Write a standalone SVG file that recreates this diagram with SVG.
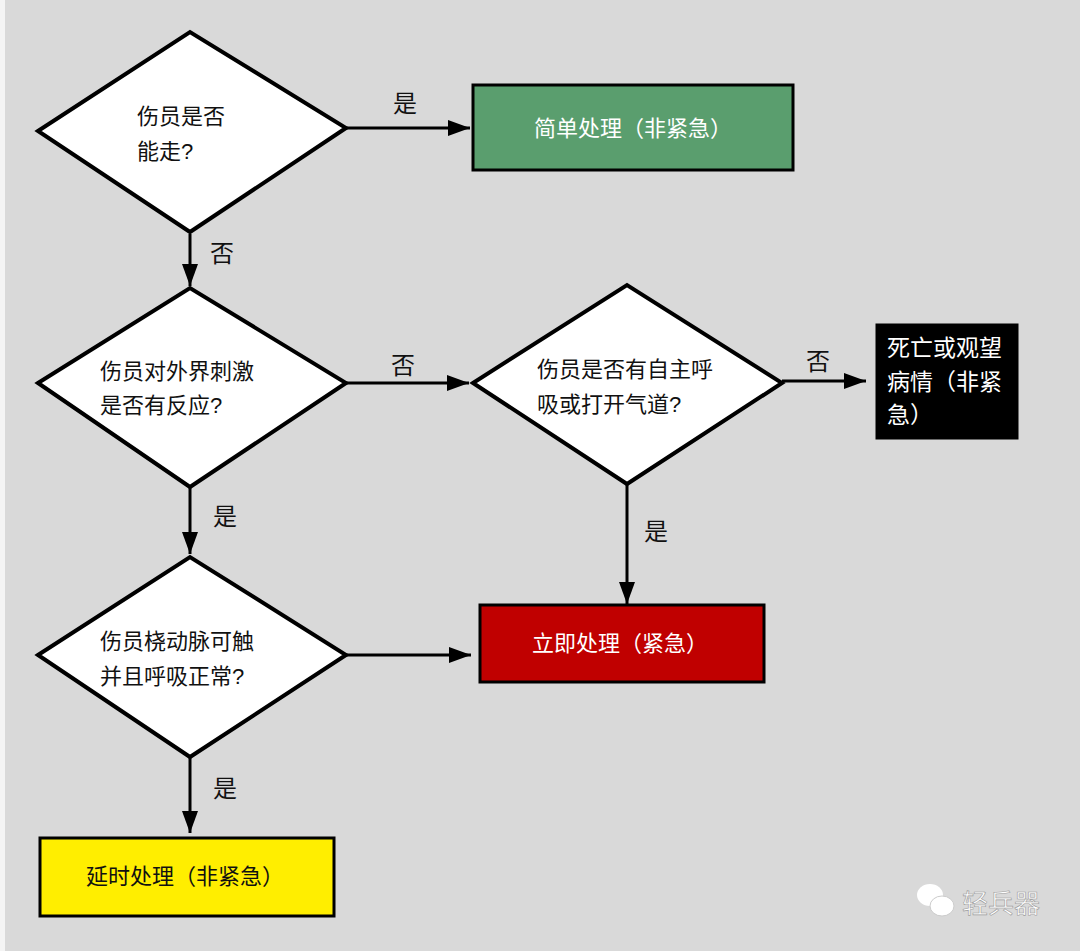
<svg xmlns="http://www.w3.org/2000/svg" width="1080" height="951" viewBox="0 0 1080 951">
<style>
text{font-family:"Liberation Sans","Noto Sans CJK SC",sans-serif;font-size:22px;fill:#111}
.d{fill:#fff;stroke:#000;stroke-width:4}
.b{stroke:#000;stroke-width:3}
.w{fill:#fff}
.c line{stroke:#000;stroke-width:3;marker-end:url(#a2)}
</style>
<defs><marker id="a2" markerWidth="22" markerHeight="16" refX="22" refY="8" orient="auto" markerUnits="userSpaceOnUse"><path d="M0,0L22,8L0,16z" fill="#000"/></marker></defs>
<rect width="1080" height="951" fill="#d9d9d9"/>
<rect width="5" height="951" fill="#f4f4f4"/>
<g class="c">
<line x1="346" y1="128" x2="470" y2="128"/>
<line x1="190" y1="234" x2="190" y2="286"/>
<line x1="346" y1="383" x2="469" y2="383"/>
<line x1="782" y1="381" x2="866" y2="381"/>
<line x1="627" y1="484" x2="627" y2="604"/>
<line x1="190" y1="487" x2="190" y2="554"/>
<line x1="346" y1="655" x2="471" y2="655"/>
<line x1="190" y1="757" x2="190" y2="833"/>
<text x="405" y="112" text-anchor="middle" style="font-size:24px">是</text>
<text x="222" y="262" text-anchor="middle" style="font-size:24px">否</text>
<text x="403" y="374" text-anchor="middle" style="font-size:24px">否</text>
<text x="818" y="370" text-anchor="middle" style="font-size:24px">否</text>
<text x="656" y="540" text-anchor="middle" style="font-size:24px">是</text>
<text x="225" y="525" text-anchor="middle" style="font-size:24px">是</text>
<text x="225" y="797" text-anchor="middle" style="font-size:24px">是</text>
</g>
<g id="d1"><polygon class="d" points="38,131 190,32 346,128 190,232"/><text x="137" y="124">伤员是否</text><text x="137" y="159">能走?</text></g>
<g id="d2"><polygon class="d" points="38,383 190,288 346,383 190,487"/><text x="100" y="379">伤员对外界刺激</text><text x="100" y="413">是否有反应?</text></g>
<g id="d3"><polygon class="d" points="473,383 627,285 782,383 627,484"/><text x="537" y="377">伤员是否有自主呼</text><text x="537" y="412">吸或打开气道?</text></g>
<g id="d4"><polygon class="d" points="38,655 190,557 346,655 190,757"/><text x="100" y="649">伤员桡动脉可触</text><text x="100" y="684">并且呼吸正常?</text></g>
<g id="g1"><rect class="b" x="473" y="85" width="320" height="85" fill="#5a9e6e"/><text class="w" x="633" y="136" text-anchor="middle">简单处理（非紧急）</text></g>
<g id="g2"><rect class="b" x="877" y="325" width="140" height="113" fill="#000"/><text class="w" x="887" y="356" style="font-size:23px">死亡或观望</text><text class="w" x="887" y="390" style="font-size:23px">病情（非紧</text><text class="w" x="887" y="423" style="font-size:23px">急）</text></g>
<g id="g3"><rect class="b" x="480" y="605" width="284" height="77" fill="#c00000"/><text class="w" x="620" y="651" text-anchor="middle">立即处理（紧急）</text></g>
<g id="g4"><rect class="b" x="40" y="838" width="294" height="78" fill="#ffee00"/><text x="185" y="884" text-anchor="middle">延时处理（非紧急）</text></g>
<g id="wm"><ellipse cx="930" cy="895" rx="13" ry="11" fill="#fff"/><ellipse cx="942" cy="906" rx="12" ry="10" fill="#fff" stroke="#ccc"/><text x="962" y="913" style="font-size:26px;fill:#fff;stroke:#999;stroke-width:0.6">轻兵器</text></g>
</svg>
